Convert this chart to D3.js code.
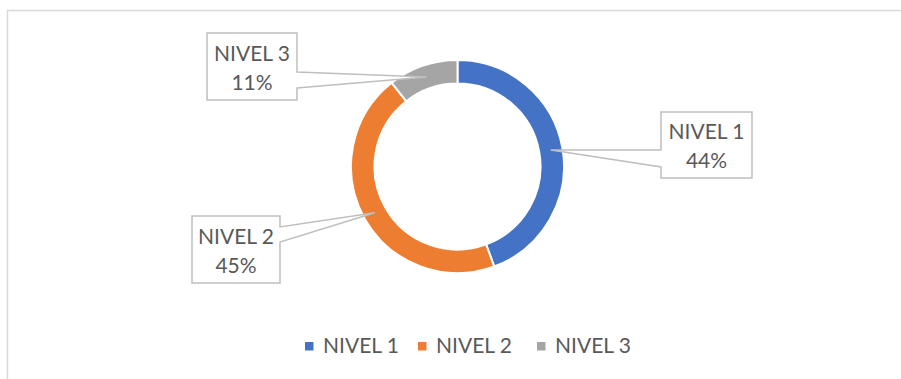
<!DOCTYPE html>
<html><head><meta charset="utf-8">
<script src="https://cdn.jsdelivr.net/npm/d3@7"></script>
<style>html,body{margin:0;padding:0;background:#fff;}svg{display:block;}</style>
</head><body>
<svg id="chart" width="901" height="379"></svg>
<script>
const categories = ["NIVEL 1", "NIVEL 2", "NIVEL 3"];
const values = [44.4, 45.0, 10.6];
const labels = ["44%", "45%", "11%"];
const colors = ["#4472C4", "#ED7D31", "#A5A5A5"];

const W = 901, H = 379;
const svg = d3.select("#chart");
const font = "Lato, 'Open Sans', sans-serif";
const textColor = "#595959";

// frame
svg.append("path").attr("d", `M7.5,${H} V10.5 H${W}`)
  .attr("fill", "none").attr("stroke", "#d9d9d9").attr("stroke-width", 1.5);

const cx = 457.5, cy = 166.5, rOuter = 106.5, rInner = 83;
const g = svg.append("g").attr("transform", `translate(${cx},${cy})`);
const pie = d3.pie().sort(null).value(d => d)(values);
const arc = d3.arc().innerRadius(rInner).outerRadius(rOuter);
const midArc = d3.arc().innerRadius((rInner + rOuter) / 2).outerRadius((rInner + rOuter) / 2);

g.selectAll("path.slice").data(pie).join("path").attr("class", "slice")
  .attr("d", arc).attr("fill", (d, i) => colors[i])
  .attr("stroke", "#fff").attr("stroke-width", 2);

// callout boxes (layout)
const boxes = [
  {x0: 661, y0: 112, x1: 752, y1: 178, side: "left", b0: 150, b1: 167},
  {x0: 192, y0: 216, x1: 280, y1: 283, side: "right", b0: 227, b1: 242},
  {x0: 207, y0: 33, x1: 297, y1: 100, side: "right", b0: 72, b1: 88}
];

pie.forEach((d, i) => {
  const c = midArc.centroid(d);
  const tx = cx + c[0], ty = cy + c[1];
  const b = boxes[i];
  let p;
  if (b.side === "left") {
    p = `M${b.x0},${b.y0} H${b.x1} V${b.y1} H${b.x0} V${b.b1} L${tx},${ty} L${b.x0},${b.b0} Z`;
  } else {
    p = `M${b.x0},${b.y0} H${b.x1} V${b.b0} L${tx},${ty} L${b.x1},${b.b1} V${b.y1} H${b.x0} Z`;
  }
  svg.append("path").attr("d", p).attr("fill", "#fff")
    .attr("stroke", "#bfbfbf").attr("stroke-width", 1.5).attr("stroke-linejoin", "miter");
  const mx = (b.x0 + b.x1) / 2, my = (b.y0 + b.y1) / 2;
  svg.append("text").attr("x", mx).attr("y", my - 6).attr("text-anchor", "middle")
    .attr("font-family", font).attr("font-size", 21).attr("fill", textColor).text(categories[i]);
  svg.append("text").attr("x", mx).attr("y", my + 23).attr("text-anchor", "middle")
    .attr("font-family", font).attr("font-size", 21).attr("fill", textColor).text(labels[i]);
});

// legend
const legendX = [305, 418, 537];
const lg = svg.append("g");
categories.forEach((c, i) => {
  lg.append("rect").attr("x", legendX[i]).attr("y", 342).attr("width", 8.5).attr("height", 8.5).attr("fill", colors[i]);
  lg.append("text").attr("x", legendX[i] + 18).attr("y", 353)
    .attr("font-family", font).attr("font-size", 21).attr("fill", textColor).text(c);
});
</script>
</body></html>
